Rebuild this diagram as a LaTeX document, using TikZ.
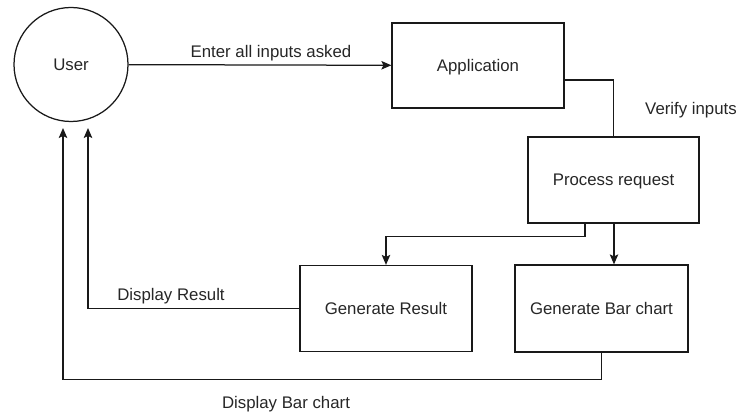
\documentclass[tikz,border=0pt]{standalone}
\usepackage{fontspec}
\setmainfont{Liberation Sans}
\usetikzlibrary{arrows.meta}
\begin{document}
\begin{tikzpicture}[x=1pt,y=-1pt,
  font=\fontsize{16.8}{20}\selectfont,
  line/.style={draw=black!90,line width=1.25pt},
  arr/.style={line,-{Stealth[length=10pt,width=8.5pt,inset=2pt]}},
  box/.style={line,rectangle,inner sep=0pt,text=black!85,text height=12pt,text depth=0pt},
  lbl/.style={text=black!85,inner sep=0pt,anchor=base}]
\useasboundingbox (0,0) rectangle (750,414);
\node[line,circle,minimum size=114pt,inner sep=0pt,text=black!85,text height=12pt,text depth=0pt] (user) at (71,64.5) {User};
\node[box,minimum width=172pt,minimum height=85pt] (app) at (478,65.5) {Application};
\node[box,minimum width=171pt,minimum height=86pt] (proc) at (613.5,180) {Process request};
\node[box,minimum width=172pt,minimum height=86pt] (gr) at (386,308.5) {Generate Result};
\node[box,minimum width=173pt,minimum height=87pt] (gb) at (601.5,308.5) {Generate Bar chart};
\coordinate (c1) at (88,128);
\coordinate (c2) at (63,128);
\draw[arr] (user) -- (app);
\draw[line] ([yshift=-14.5pt]app.east) -| (proc.north);
\draw[arr] ([xshift=-28.5pt]proc.south) -- ++(0,13) -| (gr.north);
\draw[arr] ([xshift=0.5pt]proc.south) -- ([xshift=0.5pt]proc.south |- gb.north);
\draw[arr] (gr.west) -| (c1);
\draw[arr] (gb.south) -- ++(0,27) -| (c2);
\node[lbl] (l1) at (271,58) {Enter all inputs asked};
\node[lbl] (l2) at (691,115) {Verify inputs};
\node[lbl] (l3) at (171,301) {Display Result};
\node[lbl] (l4) at (286,408) {Display Bar chart};
\end{tikzpicture}
\end{document}
